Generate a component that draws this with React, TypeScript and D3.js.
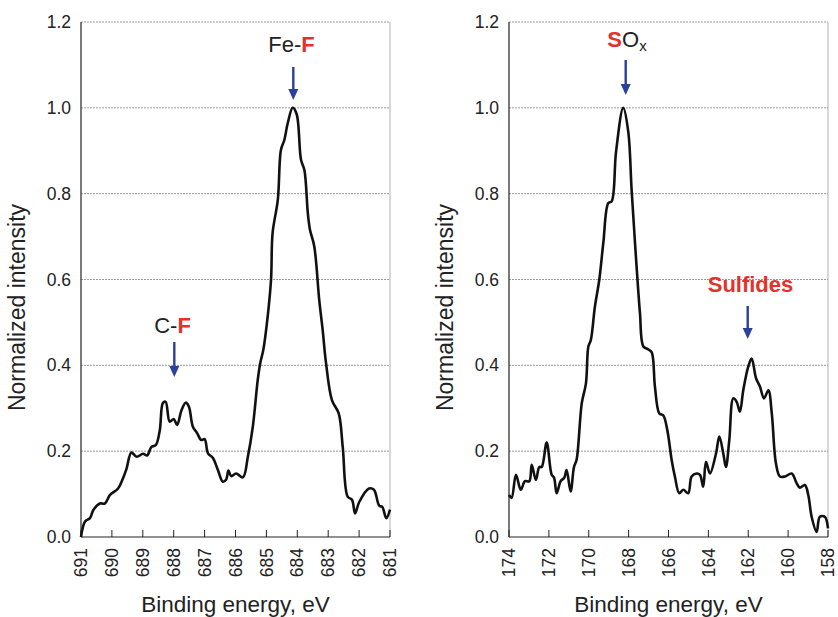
import React, { useEffect, useRef } from 'react';
import * as d3 from 'd3';

// F 1s panel (binding energy, normalized intensity)
const feEnergy = [691, 690.87, 690.71, 690.6, 690.39, 690.23, 690.06, 689.8, 689.64, 689.53, 689.37, 689.2, 688.99, 688.86, 688.72, 688.58, 688.45, 688.35, 688.26, 688.13, 688.0, 687.89, 687.75, 687.61, 687.51, 687.38, 687.25, 687.11, 687.0, 686.89, 686.73, 686.57, 686.41, 686.3, 686.23, 686.14, 685.98, 685.76, 685.6, 685.44, 685.28, 685.2, 685.1, 684.96, 684.85, 684.8, 684.63, 684.53, 684.42, 684.31, 684.15, 684.02, 683.88, 683.77, 683.66, 683.59, 683.45, 683.29, 683.18, 683.07, 682.88, 682.66, 682.53, 682.37, 682.23, 682.13, 682.0, 681.68, 681.52, 681.35, 681.25, 681.12, 681.0];
const feIntensity = [0.0, 0.036, 0.044, 0.063, 0.078, 0.078, 0.098, 0.113, 0.137, 0.158, 0.197, 0.187, 0.194, 0.19, 0.21, 0.214, 0.249, 0.312, 0.315, 0.269, 0.275, 0.261, 0.295, 0.313, 0.304, 0.257, 0.243, 0.226, 0.228, 0.195, 0.184, 0.156, 0.129, 0.134, 0.155, 0.142, 0.148, 0.139, 0.187, 0.257, 0.366, 0.405, 0.436, 0.513, 0.6, 0.708, 0.786, 0.902, 0.925, 0.964, 1.0, 0.985, 0.879, 0.855, 0.755, 0.716, 0.677, 0.552, 0.483, 0.405, 0.319, 0.288, 0.21, 0.094, 0.087, 0.055, 0.081, 0.113, 0.11, 0.073, 0.07, 0.044, 0.064];

// S 2p panel
const sEnergy = [174.0, 173.87, 173.65, 173.41, 173.2, 172.98, 172.86, 172.65, 172.48, 172.36, 172.11, 171.86, 171.74, 171.61, 171.41, 171.23, 171.11, 170.91, 170.74, 170.61, 170.35, 170.14, 170.02, 169.9, 169.69, 169.47, 169.27, 169.02, 168.85, 168.63, 168.27, 168.02, 167.85, 167.68, 167.52, 167.43, 167.26, 167.01, 166.84, 166.68, 166.46, 166.26, 166.06, 165.84, 165.68, 165.46, 165.26, 165.01, 164.84, 164.59, 164.42, 164.26, 164.12, 163.92, 163.62, 163.45, 163.25, 163.12, 162.95, 162.75, 162.58, 162.42, 162.25, 162.0, 161.83, 161.61, 161.41, 161.21, 160.99, 160.82, 160.61, 160.41, 160.16, 159.82, 159.57, 159.41, 159.16, 158.99, 158.82, 158.57, 158.41, 158.16, 158.0];
const sIntensity = [0.098, 0.091, 0.145, 0.11, 0.13, 0.13, 0.168, 0.133, 0.163, 0.163, 0.22, 0.145, 0.138, 0.102, 0.13, 0.138, 0.156, 0.106, 0.163, 0.18, 0.312, 0.358, 0.444, 0.458, 0.537, 0.6, 0.685, 0.778, 0.782, 0.898, 1.0, 0.945, 0.809, 0.685, 0.576, 0.521, 0.444, 0.437, 0.43, 0.35, 0.288, 0.283, 0.249, 0.179, 0.141, 0.102, 0.11, 0.102, 0.141, 0.148, 0.145, 0.117, 0.175, 0.148, 0.194, 0.234, 0.194, 0.163, 0.226, 0.323, 0.315, 0.292, 0.342, 0.397, 0.416, 0.37, 0.35, 0.323, 0.342, 0.288, 0.171, 0.141, 0.141, 0.148, 0.125, 0.115, 0.121, 0.098, 0.047, 0.012, 0.047, 0.047, 0.02];

const yTicks = [0, 0.2, 0.4, 0.6, 0.8, 1.0, 1.2];
const feTicks = [691, 690, 689, 688, 687, 686, 685, 684, 683, 682, 681];
const sTicks = [174, 172, 170, 168, 166, 164, 162, 160, 158];

const FONT = 'Liberation Sans, Arial, Helvetica, sans-serif';
const RED = '#e4312b';
const BLUE = '#2b3f9c';

type Label = {
  textX: number; baseline: number; arrowX: number; arrowTop: number; arrowTip: number;
  parts: { text: string; red?: boolean; sub?: boolean }[];
};

function drawPanel(
  svg: d3.Selection<SVGSVGElement, unknown, null, undefined>,
  opts: {
    left: number; right: number;
    domain: [number, number];
    ticks: number[];
    energy: number[]; intensity: number[];
    labels: Label[];
  }
) {
  const top = 22, bottom = 537;
  const x = d3.scaleLinear().domain(opts.domain).range([opts.left, opts.right]);
  const y = d3.scaleLinear().domain([0, 1.2]).range([bottom, top]);
  const g = svg.append('g');

  // grid
  g.selectAll('.grid').data(yTicks.filter(t => t > 0)).enter().append('line')
    .attr('x1', opts.left).attr('x2', opts.right)
    .attr('y1', d => y(d)).attr('y2', d => y(d))
    .attr('stroke', '#9a9a9a').attr('stroke-width', 1).attr('stroke-dasharray', '2,1');
  g.append('line').attr('x1', opts.right).attr('x2', opts.right).attr('y1', top).attr('y2', bottom)
    .attr('stroke', '#b0b0b0').attr('stroke-width', 1);

  // axes
  g.append('line').attr('x1', opts.left).attr('x2', opts.left).attr('y1', top).attr('y2', bottom)
    .attr('stroke', '#222').attr('stroke-width', 1.2);
  g.append('line').attr('x1', opts.left).attr('x2', opts.right).attr('y1', bottom).attr('y2', bottom)
    .attr('stroke', '#222').attr('stroke-width', 1.2);
  g.selectAll('.xt').data(opts.ticks).enter().append('line')
    .attr('x1', d => x(d)).attr('x2', d => x(d)).attr('y1', bottom).attr('y2', bottom - 7)
    .attr('stroke', '#222').attr('stroke-width', 1);

  g.selectAll('.yl').data(yTicks).enter().append('text')
    .attr('x', opts.left - 10).attr('y', d => y(d)).attr('dy', '0.35em')
    .attr('text-anchor', 'end').attr('font-family', FONT).attr('font-size', 17.5).attr('fill', '#222')
    .text(d => d.toFixed(1));
  g.selectAll('.xl').data(opts.ticks).enter().append('text')
    .attr('transform', d => `translate(${x(d)},${bottom + 11}) rotate(-90)`)
    .attr('text-anchor', 'end').attr('dy', '0.35em')
    .attr('font-family', FONT).attr('font-size', 17.5).attr('fill', '#222')
    .text(d => String(d));

  g.append('text')
    .attr('transform', `translate(${opts.left - 56},${(top + bottom) / 2 + 28}) rotate(-90)`)
    .attr('text-anchor', 'middle').attr('font-family', FONT).attr('font-size', 23).attr('fill', '#222')
    .text('Normalized intensity');
  g.append('text')
    .attr('x', (opts.left + opts.right) / 2).attr('y', 612)
    .attr('text-anchor', 'middle').attr('font-family', FONT).attr('font-size', 22.5).attr('fill', '#222')
    .text('Binding energy, eV');

  // curve
  const pts = opts.energy.map((e, i) => [e, opts.intensity[i]] as [number, number]);
  const line = d3.line<[number, number]>().x(d => x(d[0])).y(d => y(d[1])).curve(d3.curveCatmullRom.alpha(0.5));
  g.append('path').attr('d', line(pts) || '').attr('fill', 'none')
    .attr('stroke', '#111').attr('stroke-width', 2.6).attr('stroke-linejoin', 'round');

  // labels and arrows
  opts.labels.forEach(l => {
    const t = g.append('text').attr('x', l.textX).attr('y', l.baseline).attr('text-anchor', 'middle')
      .attr('font-family', FONT).attr('font-size', 22).attr('fill', '#222');
    l.parts.forEach(p => {
      const s = t.append('tspan').text(p.text);
      if (p.red) s.attr('fill', RED).attr('font-weight', 'bold');
      if (p.sub) s.attr('font-size', 15).attr('dy', 4);
    });
    const ax = l.arrowX;
    g.append('line').attr('x1', ax).attr('x2', ax).attr('y1', l.arrowTop).attr('y2', l.arrowTip - 9)
      .attr('stroke', BLUE).attr('stroke-width', 2.4);
    g.append('path').attr('d', `M${ax - 5},${l.arrowTip - 11}L${ax + 5},${l.arrowTip - 11}L${ax},${l.arrowTip}Z`).attr('fill', BLUE);
  });
}

export default function App() {
  const ref = useRef<SVGSVGElement>(null);
  useEffect(() => {
    if (!ref.current) return;
    const svg = d3.select(ref.current);
    svg.selectAll('*').remove();
    drawPanel(svg, {
      left: 81, right: 390, domain: [691, 681], ticks: feTicks,
      energy: feEnergy, intensity: feIntensity,
      labels: [
        { textX: 291.5, baseline: 52, arrowX: 293.3, arrowTop: 67, arrowTip: 100, parts: [{ text: 'Fe-' }, { text: 'F', red: true }] },
        { textX: 172.5, baseline: 333, arrowX: 174.3, arrowTop: 342, arrowTip: 377, parts: [{ text: 'C-' }, { text: 'F', red: true }] },
      ],
    });
    drawPanel(svg, {
      left: 509, right: 828, domain: [174, 158], ticks: sTicks,
      energy: sEnergy, intensity: sIntensity,
      labels: [
        { textX: 627, baseline: 47, arrowX: 625.7, arrowTop: 60, arrowTip: 95, parts: [{ text: 'S', red: true }, { text: 'O' }, { text: 'x', sub: true }] },
        { textX: 750.5, baseline: 292, arrowX: 747.7, arrowTop: 306, arrowTip: 339, parts: [{ text: 'Sulfides', red: true }] },
      ],
    });
  }, []);
  return (
    <svg ref={ref} width={838} height={617}
      style={{ position: 'absolute', left: 0, top: 0, background: '#fff' }} />
  );
}
